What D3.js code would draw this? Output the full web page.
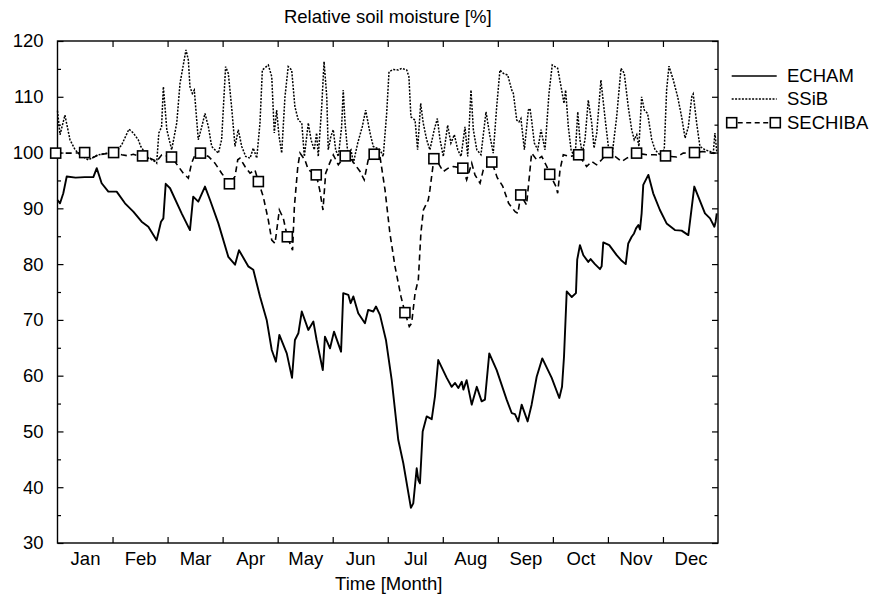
<!DOCTYPE html>
<html>
<head>
<meta charset="utf-8">
<script src="https://cdn.jsdelivr.net/npm/d3@7"></script>
<style>
  html, body { margin: 0; padding: 0; background: #fff; }
  svg { display: block; font-family: "Liberation Sans", Arial, Helvetica, sans-serif; }
</style>
</head>
<body>
<svg id="chart" width="872" height="596"></svg>
<script>
// ---------------- data ----------------
const months = ["Jan","Feb","Mar","Apr","May","Jun","Jul","Aug","Sep","Oct","Nov","Dec"];
const yTicks = [30, 40, 50, 60, 70, 80, 90, 100, 110, 120];
const titleText = "Relative soil moisture [%]";
const xTitle = "Time [Month]";
const seriesNames = ["ECHAM", "SSiB", "SECHIBA"];

// [day of year, relative soil moisture %]
const echam = [
  [0,91.5],[1.4,90.9],[3.2,92.7],[5.1,95.7],[10,95.5],[15,95.6],[19.8,95.6],[21.7,97.2],[24.4,94.5],
  [28.1,93.0],[32.7,93.0],[37.3,90.9],[41.9,89.4],[46.5,87.6],[50.2,86.7],[54.8,84.3],[57.2,87.6],
  [58.5,88.2],[59.8,94.4],[62.2,93.6],[68.6,89.1],[73.2,86.1],[75.0,92.1],[77.8,91.2],[81.5,93.9],
  [84.3,91.5],[88.9,87.3],[94.4,81.3],[98.1,79.9],[100.3,82.5],[105.4,79.6],[108.2,79.0],[111.9,74.2],
  [115.6,70.0],[118.4,64.6],[120.7,62.5],[122.6,67.3],[126.7,64.0],[129.6,59.6],[131.2,66.4],
  [133.1,67.6],[135.0,71.5],[138.6,68.2],[141.4,69.7],[143.2,66.4],[146.6,61.0],[147.8,67.0],
  [150.6,64.9],[152.8,67.9],[156.7,64.3],[157.9,74.8],[160.7,74.5],[162.0,73.0],[163.5,74.2],
  [166.2,71.2],[169.9,69.4],[171.7,71.8],[174.5,71.5],[176.0,72.4],[178.2,70.9],[181.5,66.4],
  [184.7,59.2],[188.3,48.5],[191.1,44.3],[195.3,36.3],[196.6,37.1],[198.5,43.4],[199.4,41.3],
  [200.3,40.7],[201.8,50.0],[204.0,52.7],[206.8,52.2],[208.6,56.3],[210.4,62.8],[215.1,59.6],
  [217.8,58.0],[219.7,58.7],[221.5,57.8],[223.4,58.9],[224.3,57.5],[226.1,59.2],[228.9,54.8],
  [231.7,58.0],[234.4,55.4],[236.2,55.7],[238.6,64.0],[242.7,61.0],[248.2,55.7],[251.0,53.3],
  [252.8,53.1],[254.6,51.8],[256.5,54.8],[259.8,51.8],[262.0,54.8],[264.8,59.8],[267.9,63.1],
  [273.1,59.6],[277.3,56.0],[278.8,58.0],[279.9,63.4],[281.4,75.1],[284.2,74.1],[286.5,74.8],
  [287.2,80.8],[288.7,83.4],[290.6,81.6],[293.3,80.4],[294.6,80.9],[297.0,80.0],[299.8,79.1],
  [300.7,79.6],[301.6,83.9],[304.9,83.4],[309.0,81.6],[311.8,80.6],[314.0,80.0],[315.4,83.7],
  [317.3,84.9],[318.6,85.5],[319.7,86.4],[321.0,87.0],[321.9,86.2],[322.8,89.1],[323.7,94.2],
  [326.5,96.0],[329.2,92.7],[332.9,89.7],[336.6,87.3],[341.2,86.1],[344.9,86.0],[348.6,85.2],
  [351.9,93.9],[354.1,92.1],[357.8,89.1],[360.6,88.2],[363.0,86.7],[363.7,87.6],[364.3,89.1]
];

const ssib = [
  [0,107.5],[1.4,103.2],[4.1,106.7],[6.9,102.3],[9.7,100.5],[12.4,99.6],[17,98.7],[22.5,99.6],
  [28,99.9],[32.7,100.2],[35.5,101.4],[39.5,104.2],[41.9,103.5],[44.6,102.3],[46,101.1],[50.2,99.0],
  [53.9,98.4],[54.8,98.1],[56,103.5],[57.5,104.6],[58.5,111.8],[59.4,108.2],[60.4,104.1],[63.1,100.5],
  [65.9,105.3],[67.7,112.4],[71,118.4],[72.3,116.6],[73.2,111.8],[74.5,110.6],[75.6,111.2],[77.8,102.3],
  [79.7,104.6],[81.5,107.0],[83.4,104.6],[85.2,101.1],[87,100.5],[88.9,99.9],[90.7,102.3],[92.9,115.4],
  [94.4,114.2],[96.2,108.2],[98.1,101.1],[99.9,104.1],[101.8,101.1],[104,99.3],[106.4,99.0],[108.2,100.8],
  [110.1,99.0],[111.9,105.3],[113.2,114.8],[116.5,115.7],[118.4,113.6],[119.8,103.5],[121.1,107.6],
  [122.4,103.0],[123.9,99.9],[125.7,110.0],[127.5,115.4],[129.4,114.8],[131.2,108.2],[133.1,105.8],
  [135,105.3],[136.4,99.3],[138.6,105.3],[140.1,102.3],[141.9,100.5],[143.2,103.5],[144.1,99.3],
  [146,108.2],[147.3,116.3],[148.8,110.0],[149.6,100.5],[151.1,102.9],[152.4,104.1],[153.7,100.5],
  [155.2,99.3],[157,104.6],[157.9,111.2],[158.9,105.3],[160.4,99.9],[162.2,100.5],[163.5,98.1],
  [165.9,101.7],[168.4,104.6],[170.3,107.6],[172.7,103.5],[174.5,101.1],[178.2,100.5],[180,99.3],
  [181.9,107.0],[183.2,114.5],[185.6,114.9],[188.3,114.8],[190.2,115.1],[193,114.8],[194.2,113.6],
  [195.3,106.4],[197.6,105.8],[199,100.5],[200.7,108.8],[202.1,105.3],[204,102.3],[205.8,100.5],
  [208.2,104.1],[209.9,106.1],[211.4,102.3],[213.2,99.3],[215.6,104.9],[217.4,101.7],[219.3,103.2],
  [221.2,100.5],[223,99.3],[225.2,104.6],[226.7,99.3],[228.5,111.2],[229.8,104.1],[231.7,100.5],
  [234,99.6],[236.8,107.3],[239,102.9],[240.8,99.9],[242.7,108.2],[244.5,114.8],[246.4,114.2],
  [248.8,113.9],[251,111.2],[251.9,110.6],[253.8,105.8],[255,105.5],[256.1,106.1],[258,100.5],
  [260.2,107.6],[261.1,107.9],[262,105.8],[263.5,101.7],[265.4,100.5],[267.2,104.1],[269.4,100.5],
  [271.6,110.6],[273.4,115.7],[276.4,115.1],[278.6,111.2],[279.9,108.8],[280.8,111.2],[282.3,104.6],
  [283.8,100.5],[286,99.0],[287.5,107.3],[288.7,102.3],[290,99.9],[291.5,102.3],[293.3,109.4],
  [295.2,105.3],[296.5,100.8],[298,103.5],[300.3,113.0],[302.5,106.4],[304.4,101.1],[306.6,99.9],
  [309,106.4],[311.4,115.1],[313.2,114.2],[315.4,108.2],[317.3,104.1],[318.7,102.3],[320.1,103.2],
  [321.3,101.1],[322.8,110.0],[324.3,107.6],[326.1,107.0],[328.4,102.3],[330.2,100.5],[332.9,99.6],
  [335.3,100.5],[336.6,111.2],[337.9,115.5],[340.3,113.0],[342.7,110.0],[344.9,106.4],[346.8,102.6],
  [348.6,104.6],[350.5,110.0],[351.3,110.5],[353.2,105.3],[355,101.1],[357.8,100.5],[360.6,100.2],
  [362.4,99.9],[363.3,103.5],[364.3,100.2]
];

const sechiba = [
  [9.7,99.9],[18,98.8],[22.5,99.6],[35.5,99.6],[39.1,99.4],[41.9,99.7],[44.6,99.4],[51.1,99.0],
  [54.8,98.4],[57.6,99.6],[66.8,97.5],[69.5,96.3],[72.3,95.4],[74.1,98.1],[76,99.6],[83.4,99.3],
  [87,98.1],[90.7,96.3],[98.1,95.7],[99.6,98.7],[100.8,99.0],[103.6,97.5],[106.4,96.3],[109.1,96.9],
  [113.7,92.1],[116.5,87.9],[118.4,84.3],[120.2,83.7],[122.6,89.7],[124.8,88.2],[129.9,82.5],
  [130.9,90.3],[132.8,97.5],[134,99.9],[136.7,98.7],[138.6,96.9],[144.9,93.3],[146.7,89.7],
  [148.2,96.3],[150.4,98.1],[152.4,99.6],[155.2,97.8],[162.5,98.7],[167.2,96.6],[169.5,95.1],
  [171.7,98.7],[178.2,99.3],[181,93.3],[183.7,85.5],[186.5,79.6],[189.8,74.2],[194.4,68.8],
  [195.7,69.4],[197.6,74.8],[199.4,77.2],[200.8,85.5],[202.2,89.7],[204.9,91.5],[205.8,93.3],
  [210.4,98.1],[213.2,96.6],[215.9,97.2],[218.7,97.5],[226.1,95.1],[228.9,98.1],[230.7,96.0],
  [233.5,94.5],[235.3,96.9],[243,95.5],[246,94.0],[249.3,90.9],[252.9,89.4],[254.4,89.1],
  [259.2,90.6],[260.2,93.9],[262,99.9],[264.8,98.7],[267.6,99.3],[270.4,97.5],[275.5,93.9],
  [276.4,92.7],[277.7,96.9],[279.5,99.6],[283.2,99.3],[292.4,97.5],[295.2,98.4],[297.9,97.8],
  [300.7,98.7],[308.1,99.3],[311.8,98.4],[314.6,99.0],[325.6,99.6],[330.2,99.6],[342.2,99.2],
  [345.8,99.9],[356.8,100.2],[361.5,99.9],[364.3,99.9]
];

// SECHIBA sample points shown with square markers
const sechibaMarkerDays = [-1,15,31,47,63,79,95,111,127,143,159,175,192,208,224,240,256,272,288,304,320,336,352];
const sechibaMarkerValues = [99.9,100.0,100.0,99.4,99.2,99.9,94.4,94.8,84.9,96.0,99.4,99.7,71.3,98.9,97.2,98.3,92.4,96.1,99.6,100.0,99.9,99.4,100.0];

// ---------------- layout ----------------
const svg = d3.select("#chart");
const L = 57.5, R = 718, T = 41, B = 543;
const FONT = 18.5;

const x = d3.scaleLinear().domain([0, 365]).range([L, R]);
const y = d3.scaleLinear().domain([30, 120]).range([B, T]);
const monthLen = 365 / 12;
const monthStarts = d3.range(13).map(i => i * monthLen);
const monthMids = months.map((m, i) => (i + 0.5) * monthLen);

// frame
svg.append("rect")
  .attr("x", L).attr("y", T).attr("width", R - L).attr("height", B - T)
  .attr("fill", "none").attr("stroke", "#000").attr("stroke-width", 1.4);

// y axes (inward ticks)
const minor = d3.range(35, 120, 10);
function styleAxis(g) {
  g.select(".domain").remove();
  g.selectAll(".tick line").attr("stroke", "#000").attr("stroke-width", 1.2);
  g.selectAll("text").attr("fill", "#000").style("font-size", FONT + "px");
}
svg.append("g").attr("transform", `translate(${L},0)`)
  .call(d3.axisLeft(y).tickValues(yTicks).tickSize(-6).tickPadding(14).tickFormat(d3.format("d")))
  .call(styleAxis);
svg.append("g").attr("transform", `translate(${L},0)`)
  .call(d3.axisLeft(y).tickValues(minor).tickSize(-3.5).tickFormat(""))
  .call(styleAxis);
svg.append("g").attr("transform", `translate(${R},0)`)
  .call(d3.axisRight(y).tickValues(yTicks).tickSize(-6).tickFormat(""))
  .call(styleAxis);
svg.append("g").attr("transform", `translate(${R},0)`)
  .call(d3.axisRight(y).tickValues(minor).tickSize(-3.5).tickFormat(""))
  .call(styleAxis);

// x axes
svg.append("g").attr("transform", `translate(0,${B})`)
  .call(d3.axisBottom(x).tickValues(monthStarts.slice(1, 12)).tickSize(-6).tickFormat(""))
  .call(styleAxis);
svg.append("g").attr("transform", `translate(0,${T})`)
  .call(d3.axisTop(x).tickValues(monthStarts.slice(1, 12)).tickSize(-6).tickFormat(""))
  .call(styleAxis);
svg.append("g").attr("transform", `translate(0,${B})`)
  .call(d3.axisBottom(x).tickValues(monthMids).tickSize(0).tickPadding(9).tickFormat((d, i) => months[i]))
  .call(styleAxis);

// titles
svg.append("text").attr("x", (L + R) / 2).attr("y", 23).attr("text-anchor", "middle")
  .style("font-size", FONT + "px").text(titleText);
svg.append("text").attr("x", (L + R) / 2 + 1).attr("y", 589.5).attr("text-anchor", "middle")
  .style("font-size", FONT + "px").text(xTitle);

// lines
const line = d3.line().x(d => x(d[0])).y(d => y(d[1]));
const markers = sechibaMarkerDays.map((d, i) => [d, sechibaMarkerValues[i]]);
const sechibaAll = sechiba.concat(markers).sort((a, b) => a[0] - b[0]);

svg.append("path").datum(ssib).attr("d", line)
  .attr("fill", "none").attr("stroke", "#000").attr("stroke-width", 1.5)
  .attr("stroke-dasharray", "2,1.4");
svg.append("path").datum(sechibaAll).attr("d", line)
  .attr("fill", "none").attr("stroke", "#000").attr("stroke-width", 1.6)
  .attr("stroke-dasharray", "6,4");
svg.append("path").datum(echam).attr("d", line)
  .attr("fill", "none").attr("stroke", "#000").attr("stroke-width", 1.9)
  .attr("stroke-linejoin", "round");

const S = 10;
svg.append("g").selectAll("rect").data(markers).join("rect")
  .attr("x", d => x(d[0]) - S / 2).attr("y", d => y(d[1]) - S / 2)
  .attr("width", S).attr("height", S)
  .attr("fill", "#fff").attr("stroke", "#000").attr("stroke-width", 1.6);

// legend
const lg = svg.append("g");
const lx0 = 731.7, lx1 = 776.7, tx = 787;
const ly = [76, 99, 122.7];
lg.append("line").attr("x1", lx0).attr("x2", lx1).attr("y1", ly[0]).attr("y2", ly[0])
  .attr("stroke", "#000").attr("stroke-width", 1.6);
lg.append("line").attr("x1", lx0).attr("x2", lx1).attr("y1", ly[1]).attr("y2", ly[1])
  .attr("stroke", "#000").attr("stroke-width", 1.5).attr("stroke-dasharray", "2,1.4");
lg.append("line").attr("x1", lx0 + 6).attr("x2", 775.3 - 6).attr("y1", ly[2]).attr("y2", ly[2])
  .attr("stroke", "#000").attr("stroke-width", 1.6).attr("stroke-dasharray", "5,3.5");
[lx0, 775.3].forEach(cx => {
  lg.append("rect").attr("x", cx - S / 2).attr("y", ly[2] - S / 2).attr("width", S).attr("height", S)
    .attr("fill", "#fff").attr("stroke", "#000").attr("stroke-width", 1.6);
});
seriesNames.forEach((n, i) => {
  lg.append("text").attr("x", tx).attr("y", ly[i] + 6).style("font-size", FONT + "px").text(n);
});
</script>
</body>
</html>
